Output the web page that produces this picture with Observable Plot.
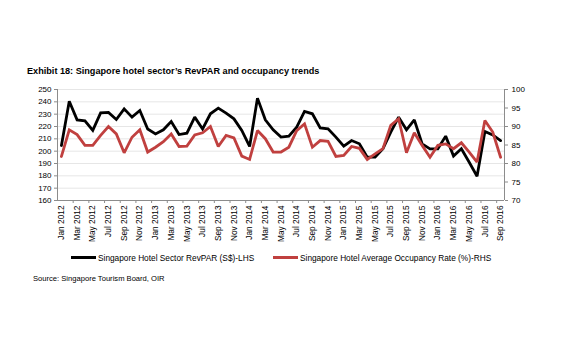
<!DOCTYPE html>
<html>
<head>
<meta charset="utf-8">
<script src="https://cdn.jsdelivr.net/npm/d3@7"></script>
<script src="https://cdn.jsdelivr.net/npm/@observablehq/plot@0.6"></script>
<style>
  html, body { margin: 0; padding: 0; background: #fff; width: 563px; height: 360px; overflow: hidden; }
  body { position: relative; font-family: "Liberation Sans", Arial, sans-serif; color: #000; }
  .title { position: absolute; left: 27px; top: 65px; font-size: 9.15px; font-weight: bold; white-space: nowrap; line-height: 12px; }
  #chart { position: absolute; left: 0; top: 80px; }
  .legend { position: absolute; top: 252px; left: 0; width: 563px; height: 14px; font-size: 8.3px; }
  .item { position: absolute; top: 0; white-space: nowrap; line-height: 13px; }
  .sw { display: inline-block; width: 25px; height: 2.8px; vertical-align: middle; margin-right: 2px; position: relative; top: -1px; }
  .source { position: absolute; left: 33px; top: 273px; font-size: 7.6px; white-space: nowrap; line-height: 12px; }
</style>
</head>
<body>
<div class="title">Exhibit 18: Singapore hotel sector’s RevPAR and occupancy trends</div>
<div id="chart"></div>
<div class="legend">
  <div class="item" style="left:71px"><span class="sw" style="background:#000"></span>Singapore Hotel Sector RevPAR (S$)-LHS</div>
  <div class="item" style="left:273px"><span class="sw" style="background:#c0403f"></span>Singapore Hotel Average Occupancy Rate (%)-RHS</div>
</div>
<div class="source">Source: Singapore Tourism Board, OIR</div>
<script>
const months = [
  "Jan 2012","Feb 2012","Mar 2012","Apr 2012","May 2012","Jun 2012","Jul 2012","Aug 2012","Sep 2012","Oct 2012","Nov 2012","Dec 2012",
  "Jan 2013","Feb 2013","Mar 2013","Apr 2013","May 2013","Jun 2013","Jul 2013","Aug 2013","Sep 2013","Oct 2013","Nov 2013","Dec 2013",
  "Jan 2014","Feb 2014","Mar 2014","Apr 2014","May 2014","Jun 2014","Jul 2014","Aug 2014","Sep 2014","Oct 2014","Nov 2014","Dec 2014",
  "Jan 2015","Feb 2015","Mar 2015","Apr 2015","May 2015","Jun 2015","Jul 2015","Aug 2015","Sep 2015","Oct 2015","Nov 2015","Dec 2015",
  "Jan 2016","Feb 2016","Mar 2016","Apr 2016","May 2016","Jun 2016","Jul 2016","Aug 2016","Sep 2016"
];
const revpar = [
  204.6, 240.5, 225.4, 224.6, 216.8, 231.0, 231.4, 225.7, 234.3, 227.6, 233.0, 218.0,
  214.0, 217.3, 224.0, 213.5, 214.6, 227.6, 218.0, 230.3, 234.9, 230.8, 226.2, 216.8,
  203.8, 243.0, 225.4, 217.3, 211.4, 212.2, 219.5, 232.2, 230.3, 218.9, 218.1, 211.4,
  204.0, 208.6, 206.0, 195.1, 195.1, 201.9, 215.4, 227.6, 217.3, 225.4, 205.9, 201.9,
  201.9, 212.2, 196.0, 201.9, 191.0, 179.7, 216.0, 213.2, 208.6
];
const occupancy = [
  81.9, 89.1, 87.8, 84.9, 84.9, 87.6, 90.0, 88.0, 82.9, 87.1, 89.1, 83.1,
  84.4, 85.9, 88.0, 84.6, 84.7, 87.7, 88.3, 90.0, 84.6, 87.6, 86.9, 82.0,
  81.1, 88.9, 86.7, 83.1, 83.1, 84.4, 88.9, 90.7, 84.4, 86.2, 86.0, 81.9,
  82.2, 84.6, 84.1, 81.1, 82.6, 84.0, 90.3, 92.1, 82.9, 88.3, 84.9, 81.7,
  84.9, 85.3, 84.0, 85.6, 83.1, 80.4, 91.6, 88.5, 81.7
];
const leftTicks = [160, 170, 180, 190, 200, 210, 220, 230, 240, 250];
const rightTicks = [70, 75, 80, 85, 90, 95, 100];

// map right-axis (occupancy) values onto the left scale
const toLeft = v => 160 + (v - 70) * 3;
const fromLeft = y => Math.round((y - 160) / 3 + 70);

const black = revpar.map((v, i) => ({i, v}));
const red = occupancy.map((v, i) => ({i, v: toLeft(v)}));
const labelIdx = months.map((m, i) => i).filter(i => i % 2 === 0);
const boundaryIdx = months.map((m, i) => i + 1.5).filter((b, i) => i % 2 === 0 && b < months.length - 0.5);

const axisGray = "#8c8c8c";

const chart = Plot.plot({
  width: 563,
  height: 170,
  marginTop: 9,
  marginLeft: 57,
  marginRight: 59,
  marginBottom: 50,
  style: { fontFamily: "'Liberation Sans', Arial, sans-serif", fontSize: "8px", color: "#000", background: "transparent" },
  x: { domain: [-0.5, months.length - 0.5] },
  y: { domain: [160, 250] },
  marks: [
    Plot.gridY(leftTicks, { stroke: "#e6e6e6", strokeOpacity: 1, strokeWidth: 1 }),
    Plot.axisY({ ticks: leftTicks, tickSize: 3, tickPadding: 3, stroke: axisGray, label: null, tickFormat: d => String(d), fill: "#000" }),
    Plot.axisY({ anchor: "right", ticks: rightTicks.map(toLeft), tickFormat: d => String(fromLeft(d)), tickSize: 3, tickPadding: 4, stroke: axisGray, label: null, fill: "#000" }),
    Plot.ruleX([-0.5], { stroke: axisGray, strokeWidth: 1 }),
    Plot.ruleX([months.length - 0.5], { stroke: axisGray, strokeWidth: 1 }),
    Plot.ruleY([160], { stroke: axisGray, strokeWidth: 1 }),
    Plot.axisX({ ticks: boundaryIdx, tickFormat: () => "", tickSize: 3, stroke: axisGray, label: null }),
    Plot.axisX({ ticks: labelIdx, tickFormat: i => months[i], tickSize: 0, tickPadding: 5, tickRotate: -90, label: null, fontSize: 8.3, fill: "#000" }),
    Plot.line(black, { x: "i", y: "v", stroke: "#000", strokeWidth: 2.8, strokeLinejoin: "miter", strokeMiterlimit: 2 }),
    Plot.line(red, { x: "i", y: "v", stroke: "#c0403f", strokeWidth: 2.8, strokeLinejoin: "miter", strokeMiterlimit: 2 })
  ]
});
document.getElementById("chart").appendChild(chart);
</script>
</body>
</html>
